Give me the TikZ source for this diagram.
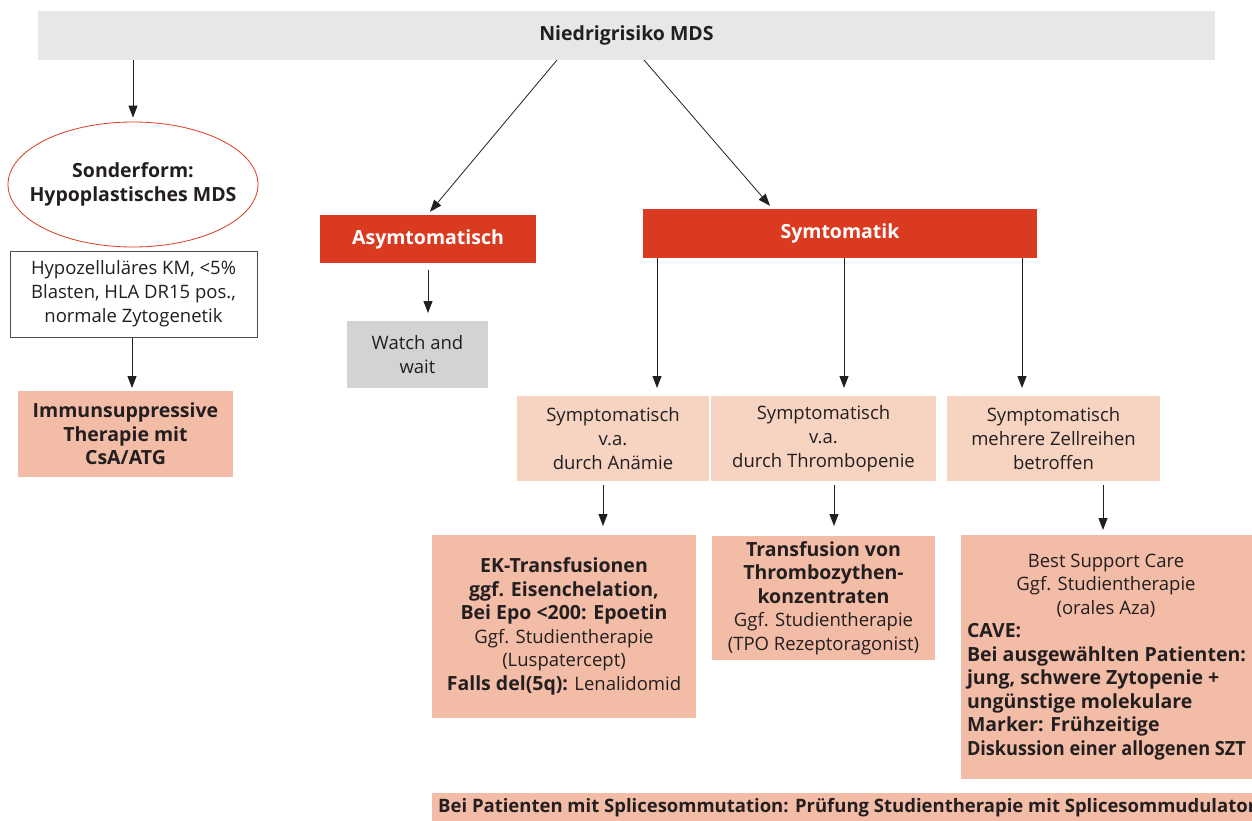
\documentclass[tikz,border=0pt]{standalone}
\usepackage{fontspec}
\setmainfont{Open Sans}[BoldFont={Open Sans Bold}]
\usetikzlibrary{arrows.meta,shapes.geometric,calc}
\definecolor{txt}{HTML}{231F20}
\definecolor{redbox}{HTML}{D93A20}
\definecolor{salmon}{HTML}{F3BCA6}
\definecolor{lightsalmon}{HTML}{F7D3C1}
\definecolor{topgray}{HTML}{E6E7E8}
\definecolor{waitgray}{HTML}{D1D3D4}
\tikzset{
  base/.style={rectangle,inner sep=0pt,align=center,text=txt,font=\fontsize{18.5}{24}\selectfont},
  boldbase/.style={base,font=\fontsize{19.5}{23.5}\selectfont\bfseries},
  redbox/.style={base,fill=redbox,text=white,font=\fontsize{19.5}{23.5}\selectfont\bfseries},
  salbox/.style={base,fill=salmon},
  lightbox/.style={base,fill=lightsalmon},
  arr/.style={draw=txt,line width=1pt,-{Triangle[length=12pt,width=9pt]}},
}
\newcommand{\bx}[1]{{\fontsize{19.5}{23.5}\selectfont\bfseries #1}}
\begin{document}
\begin{tikzpicture}[x=1pt,y=-1pt]
\useasboundingbox (0,0) rectangle (1252,821);
\clip (0,0) rectangle (1252,821);
% top
\node[boldbase,fill=topgray,minimum width=1177,minimum height=49] (top) at (626.5,35.5) {Niedrigrisiko MDS};
% left branch
\node[boldbase,ellipse,draw=redbox,line width=0.8pt,minimum width=250,minimum height=125,inner xsep=-20pt,inner ysep=0pt] (ell) at (133,184.5) {Sonderform:\\Hypoplastisches MDS};
\node[base,draw=txt!80,line width=1pt,fill=white,minimum width=247,minimum height=86] (hypo) at (133.5,294) {Hypozelluläres KM, <5\%\\Blasten, HLA DR15 pos.,\\normale Zytogenetik};
\node[boldbase,fill=salmon,minimum width=215,minimum height=86] (imm) at (125.5,434) {Immunsuppressive\\Therapie mit\\CsA/ATG};
% asymptomatic branch
\node[redbox,minimum width=216,minimum height=48] (asym) at (428,239) {Asymtomatisch};
\node[base,fill=waitgray,minimum width=141,minimum height=67] (wait) at (417.5,354.5) {Watch and\\wait};
% symptomatic branch
\node[redbox,minimum width=394,minimum height=49] (sym) at (840,233.5) {Symtomatik};
\node[lightbox,minimum width=192,minimum height=85] (s1) at (613,438.5) {Symptomatisch\\v.a.\\durch Anämie};
\node[lightbox,minimum width=225,minimum height=85] (s2) at (823.5,438.5) {Symptomatisch\\v.a.\\durch Thrombopenie};
\node[lightbox,minimum width=213,minimum height=85] (s3) at (1053.5,438.5) {Symptomatisch\\mehrere Zellreihen\\betroffen};
\node[salbox,minimum width=264,minimum height=183,font=\fontsize{18.5}{23.5}\selectfont] (ek) at (564,626.5) {\bx{EK-Transfusionen}\\\bx{ggf. Eisenchelation,}\\\bx{Bei Epo <200: Epoetin}\\Ggf. Studientherapie\\(Luspatercept)\\\bx{Falls del(5q):} Lenalidomid};
\node[salbox,minimum width=223,minimum height=124,font=\fontsize{18.5}{23.5}\selectfont] (tr) at (823.5,598) {\bx{Transfusion von}\\\bx{Thrombozythen-}\\\bx{konzentraten}\\Ggf. Studientherapie\\(TPO Rezeptoragonist)};
\node[salbox,minimum width=291,minimum height=244,align=left,font=\fontsize{18.5}{23.5}\selectfont] (bsc) at (1106.5,657) {\makebox[278pt][c]{Best Support Care}\\\makebox[278pt][c]{Ggf. Studientherapie}\\\makebox[278pt][c]{(orales Aza)}\\\bx{CAVE:}\\\resizebox{279pt}{\height}{\bx{Bei ausgewählten Patienten:}}\\\bx{jung, schwere Zytopenie +}\\\bx{ungünstige molekulare}\\\bx{Marker: Frühzeitige}\\\resizebox{279pt}{\height}{\bx{Diskussion einer allogenen SZT}}};
% bottom bar
\node[base,fill=salmon,minimum width=840,minimum height=28,anchor=north west] (bar) at (432,793) {};
\node[base,font=\fontsize{18.5}{23.5}\selectfont\bfseries,anchor=west] (bartxt) at (438,807.5) {Bei Patienten mit Splicesommutation: Prüfung Studientherapie mit Splicesommudulator};
% connectors
\coordinate (t1) at (557,60);
\coordinate (t2) at (644,60);
\draw[arr,shorten >=4pt] (top.south -| ell.north) -- (ell.north);
\draw[arr,shorten >=3pt] (hypo.south -| 132,0) -- (132,391);
\draw[arr,line width=0.8pt] (t1) -- ($(asym.north)+(2,-3)$);
\draw[arr,line width=0.8pt] (t2) -- ($(sym.north)+(-70,-3)$);
\draw[arr,shorten <=7pt,shorten >=8pt] (asym.south -| 428,0) -- (428,321);
\draw[arr,shorten >=8pt] (sym.south -| 657,0) -- (657,396);
\draw[arr,shorten >=8pt] (sym.south -| 844,0) -- (844,396);
\draw[arr,shorten >=8pt] (sym.south -| 1022,0) -- (1022,396);
\draw[arr,shorten <=4pt,shorten >=9pt] (s1.south -| 603,0) -- (603,535);
\draw[arr,shorten <=4pt,shorten >=9pt] (s2.south -| 834,0) -- (834,535);
\draw[arr,shorten <=4pt,shorten >=5pt] (s3.south -| 1103,0) -- (1103,535);
\end{tikzpicture}
\end{document}
